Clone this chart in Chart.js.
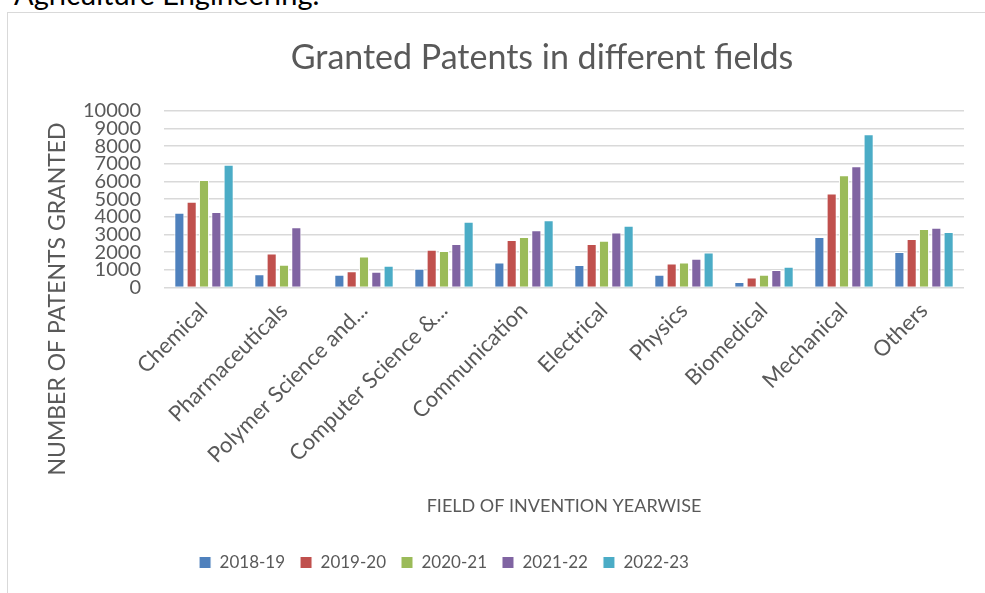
<!DOCTYPE html>
<html>
<head>
<meta charset="utf-8">
<script src="https://cdn.jsdelivr.net/npm/chart.js@4"></script>
<style>
  body { margin: 0; background: #fff; width: 985px; height: 593px; overflow: hidden; position: relative; }
  #heading { position: absolute; left: 14px; top: -21px; font: 29px/29px Lato, sans-serif; color: #000; white-space: nowrap; }
  #frame { position: absolute; left: 7px; top: 12px; width: 1100px; height: 600px; border: 1px solid #d9d9d9; }
  #patents { position: absolute; left: 8px; top: 13px; }
</style>
</head>
<body>
<div id="heading">Agriculture Engineering.</div>
<div id="frame"></div>
<canvas id="patents" width="1068" height="580"></canvas>
<script>
// Fields of invention (labels truncated as in the original)
const fields = ["Chemical", "Pharmaceuticals", "Polymer Science and...", "Computer Science &...",
  "Communication", "Electrical", "Physics", "Biomedical", "Mechanical", "Others"];

const years = ["2018-19", "2019-20", "2020-21", "2021-22", "2022-23"];

// granted patents per year, in field order
const y2018 = [4230, 760, 720, 1060, 1420, 1270, 720, 310, 2860, 2010];
const y2019 = [4850, 1930, 930, 2140, 2690, 2470, 1360, 570, 5320, 2750];
const y2020 = [6080, 1290, 1760, 2070, 2860, 2650, 1420, 720, 6350, 3320];
const y2021 = [4280, 3410, 890, 2470, 3240, 3110, 1630, 990, 6860, 3390];
const y2022 = [6950, null, 1230, 3730, 3810, 3500, 1990, 1180, 8680, 3150];

const colors = ["#4F81BD", "#C0504D", "#9BBB59", "#8064A2", "#4BACC6"];
const series = [y2018, y2019, y2020, y2021, y2022];

const grey = "#595959";
const font = "Lato, 'Open Sans', sans-serif";
const yTitle = "NUMBER OF PATENTS GRANTED";

// original puts the title a bit right and the legend left of centre,
// and centres the y title on the whole height, not on the plot
const excelLayout = {
  id: "excelLayout",
  afterLayout(chart) {
    chart.legend.left -= 60;
    chart.legend.right -= 60;
    chart.titleBlock.left += 38;
    chart.titleBlock.right += 38;
  },
  afterDraw(chart) {
    const ctx = chart.ctx;
    ctx.save();
    ctx.translate(50, 286);
    ctx.rotate(-Math.PI / 2);
    ctx.font = "23px " + font;
    ctx.fillStyle = grey;
    ctx.textAlign = "center";
    ctx.textBaseline = "middle";
    ctx.fillText(yTitle, 0, 0);
    ctx.restore();
  }
};

new Chart(document.getElementById("patents").getContext("2d"), {
  type: "bar",
  data: {
    labels: fields,
    datasets: series.map((vals, i) => ({
      label: years[i],
      data: vals,
      backgroundColor: colors[i],
      borderColor: "#ffffff",
      borderWidth: 1,
      categoryPercentage: 0.77,
      barPercentage: 0.82
    }))
  },
  plugins: [excelLayout],
  options: {
    responsive: false,
    animation: false,
    layout: { padding: { left: 36, right: 112, bottom: 12 } },
    plugins: {
      title: {
        display: true,
        text: "Granted Patents in different fields",
        color: grey,
        font: { family: font, size: 34, weight: "normal" },
        padding: { top: 25, bottom: 32 }
      },
      legend: {
        position: "bottom",
        labels: {
          color: grey,
          font: { family: font, size: 17 },
          boxWidth: 12,
          boxHeight: 12,
          padding: 15
        }
      },
      tooltip: { enabled: false }
    },
    scales: {
      x: {
        grid: { display: false },
        border: { display: false },
        ticks: {
          color: grey,
          font: { family: font, size: 22 },
          minRotation: 45,
          maxRotation: 45,
          autoSkip: false,
          padding: 2
        },
        title: {
          display: true,
          text: "FIELD OF INVENTION YEARWISE",
          color: grey,
          font: { family: font, size: 18 },
          padding: { top: 25, bottom: 22 }
        }
      },
      y: {
        min: 0,
        max: 10000,
        border: { display: false },
        grid: { color: "#d9d9d9", lineWidth: 1.5, drawTicks: false },
        afterFit(scale) { scale.width = 120; },
        ticks: {
          stepSize: 1000,
          autoSkip: false,
          color: grey,
          font: { family: font, size: 20 },
          padding: 23,
          callback: v => String(v)
        }
      }
    }
  }
});
</script>
</body>
</html>
